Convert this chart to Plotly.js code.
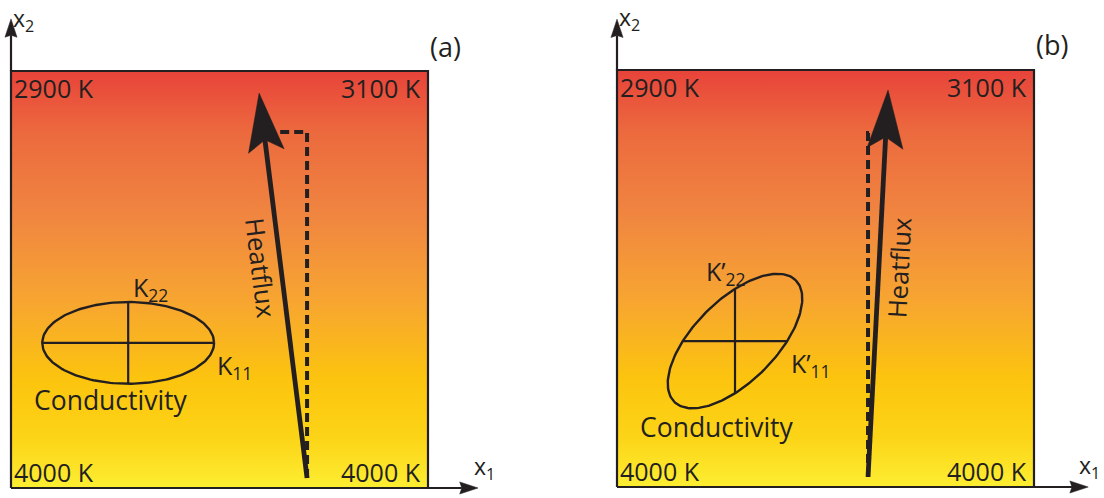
<!DOCTYPE html>
<html>
<head>
<meta charset="utf-8">
<script src="https://cdn.plot.ly/plotly-3.0.1.min.js"></script>
<style>html,body{margin:0;padding:0;background:#fff;}#chart{width:1104px;height:498px;}</style>
</head>
<body>
<div id="chart"></div>
<script>
// ---------------- data (box units: 0..100 along x1 and x2) ----------------
const panelLabels = ['(a)', '(b)'];
const topLeftTemps = ['2900 K', '2900 K'];
const topRightTemps = ['3100 K', '3100 K'];
const bottomLeftTemps = ['4000 K', '4000 K'];
const bottomRightTemps = ['4000 K', '4000 K'];
const gradientStops = [0, 0.12, 0.26, 0.45, 0.65, 0.85, 1];
const gradientColors = ['#fdee32', '#fcd417', '#fcc40e', '#f7a531', '#f08640', '#ec6a3e', '#e8433a'];

const fluxTailX = [71.0, 60.2];
const fluxTailY = [2.4, 2.4];
const fluxTipX = [59.5, 65.0];
const fluxTipY = [94.7, 95.2];
const dashTopY = [85.4, 84.9];
const dashEndX = [64.0, 62.2];

const ellipseCenterX = [28.1, 28.3];
const ellipseCenterY = [34.8, 35.0];
const ellipseSemiMajor = [20.6, 20.6];
const ellipseSemiMinor = [9.8, 9.8];
const ellipseAngleDeg = [0, 45];

const kMajorLabels = ['K<sub>11</sub>', 'K\u2019<sub>11</sub>'];
const kMinorLabels = ['K<sub>22</sub>', 'K\u2019<sub>22</sub>'];
const conductivityLabel = 'Conductivity';
const heatfluxLabel = 'Heatflux';
const axisLabelX1 = 'x<sub>1</sub>';
const axisLabelX2 = 'x<sub>2</sub>';

// ---------------- layout / positions ----------------
const PX = 4.17;                       // pixels per box unit
const W = 1104, H = 498;
const boxLeftPx = [11, 617];
const boxBottomPx = [488, 487];
const halfW = W / 2;
const axisTipX1 = [112.0, 113.0];
const axisTipX2 = [112.5, 112.2];
const x1LabelX = [110.7, 110.6];
const kMinorPos = [[28.9, 47.8], [21.0, 51.4]];
const kMajorPos = [[49.2, 29.1], [41.4, 29.3]];
const conductivityPos = [[24.0, 21.1], [24.0, 14.4]];
const heatfluxPos = [[60.0, 52.8], [67.6, 52.5]];
const heatfluxAngle = [83, -87];
const panelLabelPos = [[104.3, 105.8], [104.4, 106.0]];
const ink = '#231f20';
const FONT = 'Open Sans, Noto Sans, sans-serif';

function arrowPath(tx, ty, hx, hy, len, hw, notch) {
  const dx = hx - tx, dy = hy - ty, L = Math.hypot(dx, dy);
  const ux = dx / L, uy = dy / L, nx = -uy, ny = ux;
  const bx = hx - ux * len, by = hy - uy * len;
  const p1 = [bx + nx * hw, by + ny * hw];
  const p2 = [hx - ux * (len - notch), hy - uy * (len - notch)];
  const p3 = [bx - nx * hw, by - ny * hw];
  return {
    path: `M${hx},${hy} L${p1[0]},${p1[1]} L${p2[0]},${p2[1]} L${p3[0]},${p3[1]} Z`,
    neck: p2
  };
}

const traces = [];
const shapes = [];
const annotations = [];
const layout = {
  width: W, height: H,
  margin: {l: 0, r: 0, t: 0, b: 0},
  paper_bgcolor: '#ffffff', plot_bgcolor: 'rgba(0,0,0,0)',
  showlegend: false,
  shapes: shapes, annotations: annotations
};

for (let p = 0; p < 2; p++) {
  const xa = p === 0 ? 'x' : 'x2', ya = p === 0 ? 'y' : 'y2';
  const xKey = p === 0 ? 'xaxis' : 'xaxis2', yKey = p === 0 ? 'yaxis' : 'yaxis2';
  const domL = p * halfW, domR = (p + 1) * halfW;
  const ax = {
    domain: [domL / W, domR / W],
    range: [(domL - boxLeftPx[p]) / PX, (domR - boxLeftPx[p]) / PX],
    showgrid: false, zeroline: false, showticklabels: false, showline: false,
    ticks: '', fixedrange: true
  };
  const ay = {
    domain: [0, 1],
    range: [(boxBottomPx[p] - H) / PX, boxBottomPx[p] / PX],
    showgrid: false, zeroline: false, showticklabels: false, showline: false,
    ticks: '', fixedrange: true
  };
  if (p === 1) { ax.anchor = 'y2'; ay.anchor = 'x2'; }
  layout[xKey] = ax; layout[yKey] = ay;

  // gradient temperature field with border
  traces.push({
    type: 'scatter', mode: 'lines', xaxis: xa, yaxis: ya,
    x: [0, 100, 100, 0, 0], y: [0, 0, 100, 100, 0],
    fill: 'toself',
    fillgradient: {type: 'vertical',
      colorscale: gradientStops.map((s, i) => [s, gradientColors[i]])},
    line: {color: ink, width: 2.2},
    hoverinfo: 'skip'
  });

  // conductivity ellipse
  const cx = ellipseCenterX[p], cy = ellipseCenterY[p];
  const a = ellipseSemiMajor[p], b = ellipseSemiMinor[p];
  const phi = ellipseAngleDeg[p] * Math.PI / 180;
  const ex = [], ey = [];
  for (let i = 0; i <= 180; i++) {
    const t = i / 180 * 2 * Math.PI;
    ex.push(cx + a * Math.cos(t) * Math.cos(phi) - b * Math.sin(t) * Math.sin(phi));
    ey.push(cy + a * Math.cos(t) * Math.sin(phi) + b * Math.sin(t) * Math.cos(phi));
  }
  traces.push({type: 'scatter', mode: 'lines', xaxis: xa, yaxis: ya, x: ex, y: ey,
    line: {color: ink, width: 2.4}, hoverinfo: 'skip'});
  // horizontal and vertical chords through the centre
  const rh = 1 / Math.sqrt(Math.cos(phi) ** 2 / a ** 2 + Math.sin(phi) ** 2 / b ** 2);
  const rv = 1 / Math.sqrt(Math.sin(phi) ** 2 / a ** 2 + Math.cos(phi) ** 2 / b ** 2);
  traces.push({type: 'scatter', mode: 'lines', xaxis: xa, yaxis: ya,
    x: [cx - rh, cx + rh, null, cx, cx], y: [cy, cy, null, cy - rv, cy + rv],
    line: {color: ink, width: 2.2}, hoverinfo: 'skip'});

  // dashed reference (vertical) path
  shapes.push({type: 'path', xref: xa, yref: ya, layer: 'above',
    path: `M${fluxTailX[p]},${fluxTailY[p]} L${fluxTailX[p]},${dashTopY[p]} L${dashEndX[p]},${dashTopY[p]}`,
    line: {color: ink, width: 4, dash: '9px,5px'}});

  // heat flux arrow
  const hf = arrowPath(fluxTailX[p], fluxTailY[p], fluxTipX[p], fluxTipY[p], 14, 4.3, 2.7);
  shapes.push({type: 'line', xref: xa, yref: ya, layer: 'above',
    x0: fluxTailX[p], y0: fluxTailY[p], x1: hf.neck[0], y1: hf.neck[1],
    line: {color: ink, width: 4.8}});
  shapes.push({type: 'path', xref: xa, yref: ya, layer: 'above', path: hf.path,
    fillcolor: ink, line: {color: ink, width: 0.5}});

  // coordinate axes arrows
  const a2 = arrowPath(0, 0, 0, axisTipX2[p], 4.4, 1.45, 0.5);
  shapes.push({type: 'line', xref: xa, yref: ya, x0: 0, y0: 100, x1: a2.neck[0], y1: a2.neck[1],
    line: {color: ink, width: 2.2}});
  shapes.push({type: 'path', xref: xa, yref: ya, path: a2.path, fillcolor: ink, line: {color: ink, width: 0.5}});
  const a1 = arrowPath(0, 0, axisTipX1[p], 0, 4.4, 1.45, 0.5);
  shapes.push({type: 'line', xref: xa, yref: ya, x0: 100, y0: 0, x1: a1.neck[0], y1: a1.neck[1],
    line: {color: ink, width: 2.2}});
  shapes.push({type: 'path', xref: xa, yref: ya, path: a1.path, fillcolor: ink, line: {color: ink, width: 0.5}});

  // text
  const txt = (x, y, text, size, xanchor, extra) => annotations.push(Object.assign({
    xref: xa, yref: ya, x: x, y: y, text: text, showarrow: false, borderpad: 0,
    xanchor: xanchor || 'center', yanchor: 'middle',
    font: {family: FONT, size: size, color: ink}
  }, extra || {}));
  txt(0.5, 96.0, topLeftTemps[p], 25, 'left');
  txt(98.5, 96.0, topRightTemps[p], 25, 'right');
  txt(0.5, 3.9, bottomLeftTemps[p], 25, 'left');
  txt(98.5, 3.9, bottomRightTemps[p], 25, 'right');
  txt(panelLabelPos[p][0], panelLabelPos[p][1], panelLabels[p], 27);
  txt(kMinorPos[p][0], kMinorPos[p][1], kMinorLabels[p], 25, 'left');
  txt(kMajorPos[p][0], kMajorPos[p][1], kMajorLabels[p], 25, 'left');
  txt(conductivityPos[p][0], conductivityPos[p][1], conductivityLabel, 26.5);
  txt(heatfluxPos[p][0], heatfluxPos[p][1], heatfluxLabel, 25.5, 'center', {textangle: heatfluxAngle[p]});
  txt(0.3, 112.3, axisLabelX2, 23, 'left');
  txt(x1LabelX[p], 5.0, axisLabelX1, 23, 'left');
}

Plotly.newPlot('chart', traces, layout, {staticPlot: true, displayModeBar: false});
</script>
</body>
</html>
